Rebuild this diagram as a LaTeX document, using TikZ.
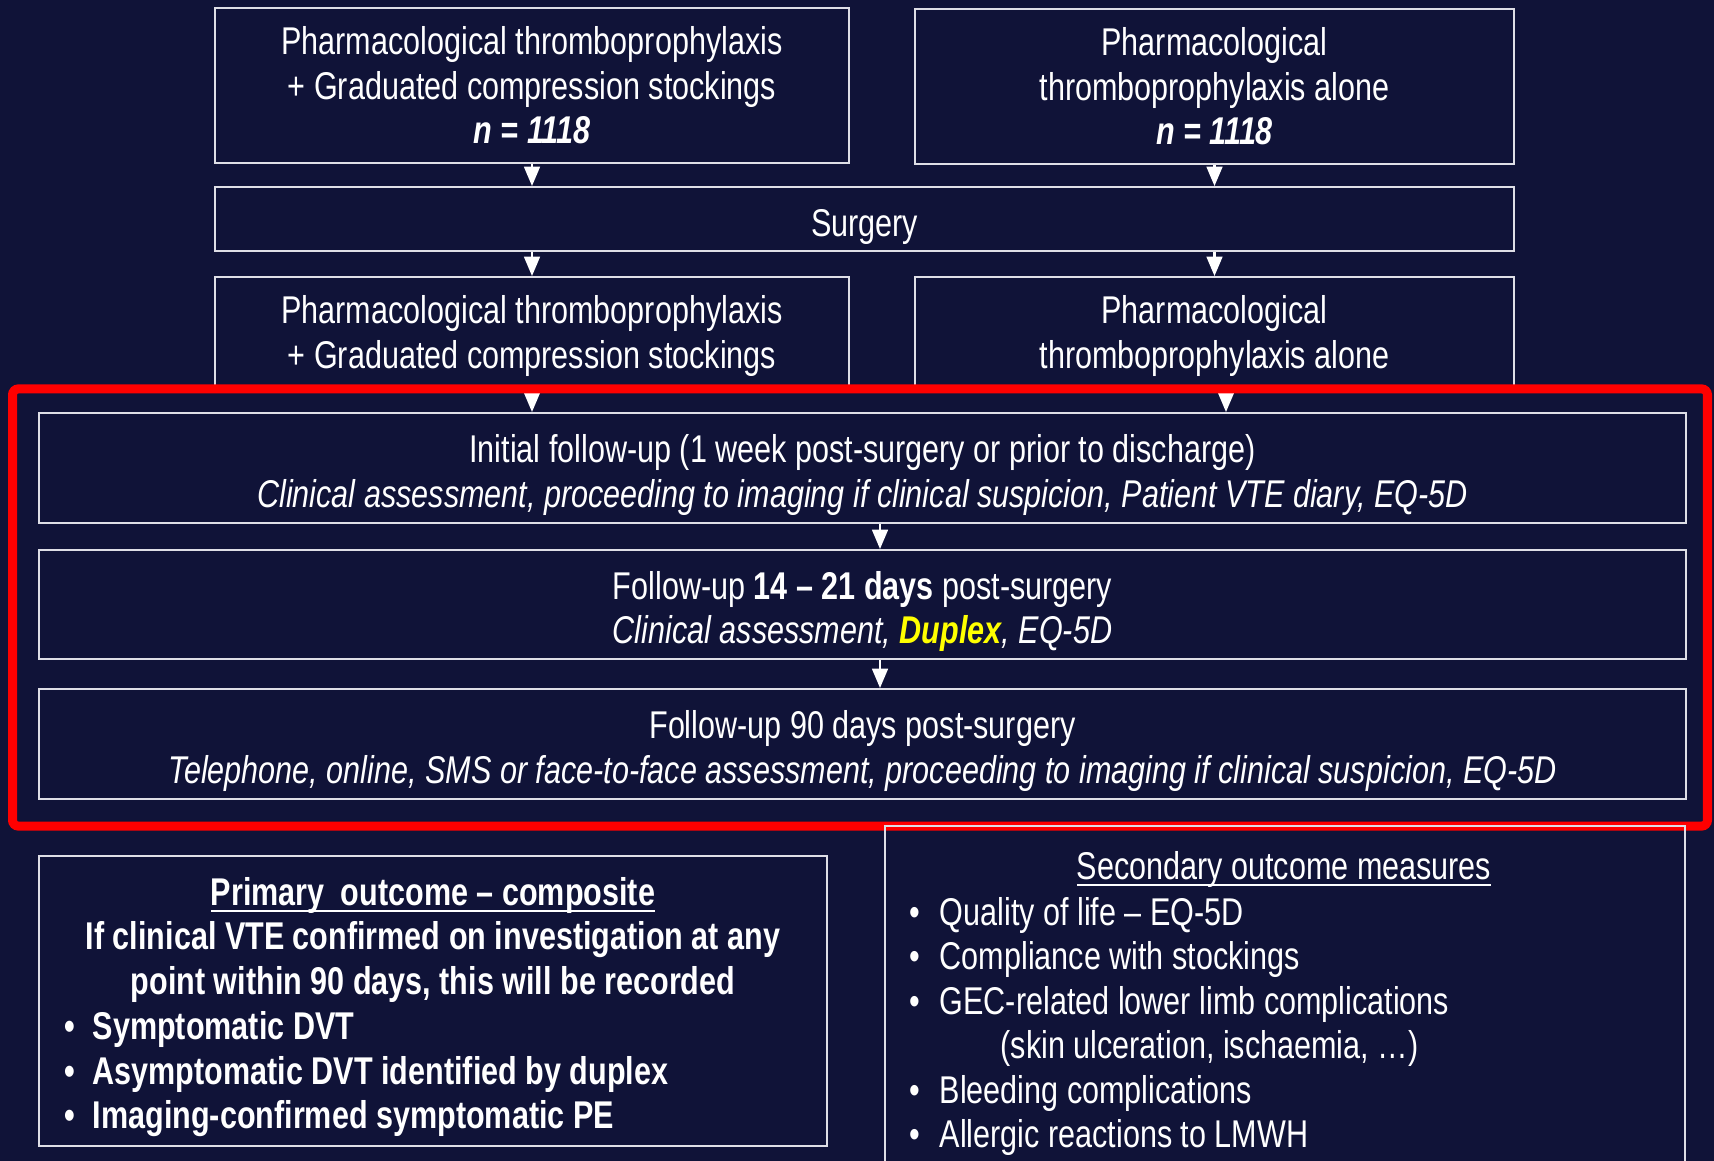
\documentclass[tikz,border=0pt]{standalone}
\usepackage{fontspec}
\setmainfont{Liberation Sans}[FakeStretch=0.79]
\usetikzlibrary{arrows.meta}
\setlength\parindent{0pt}
\definecolor{navy}{RGB}{16,19,56}
\definecolor{boxline}{RGB}{222,222,230}
\definecolor{hilite}{RGB}{255,255,0}
\newsavebox\ulbox
\newcommand{\uln}[1]{\sbox\ulbox{#1}\rlap{\rule[-1.85pt]{\wd\ulbox}{0.55pt}}\usebox\ulbox}
\newcommand{\bul}{\makebox[0.28cm][l]{\textbullet}}
\newcommand{\sbul}{\makebox[0.30cm][l]{\textbullet}}
\newcommand{\txtdrop}[1]{\rule{0pt}{#1}}
\tikzset{
  box/.style={draw=boxline, line width=0.55pt, rectangle, inner sep=0pt, align=center, text=white, font=\fontsize{11}{12.66}\selectfont},
  txt/.style={inner sep=0pt, text=white, font=\fontsize{11}{12.66}\selectfont},
  arr/.style={draw=white, line width=0.6pt, -{Triangle[width=4.5pt,length=5.5pt]}},
}

\begin{document}
\begin{tikzpicture}[x=0.01cm, y=-0.01cm]
    \useasboundingbox (0,0) rectangle (1714,1161);
    \fill [navy] (0,0) rectangle (1714,1161);
    \clip (0,0) rectangle (1714,1161);
    \node [box, minimum width=6.34cm, minimum height=1.55cm] (armA) at (532,85.5) {Pharmacological thromboprophylaxis\\+ Graduated compression stockings\\\textbf{\textit{n = 1118}}};
    \node [box, minimum width=5.99cm, minimum height=1.55cm] (armB) at (1214.5,86.5) {Pharmacological\\thromboprophylaxis alone\\\textbf{\textit{n = 1118}}};
    \node [box, minimum width=12.99cm, minimum height=0.64cm] (surg) at (864.5,219) {\txtdrop{12pt}Surgery};
    \node [box, minimum width=6.34cm, minimum height=1.12cm] (armA2) at (532,333) {\txtdrop{9.6pt}Pharmacological thromboprophylaxis\\+ Graduated compression stockings};
    \node [box, minimum width=5.99cm, minimum height=1.12cm] (armB2) at (1214.5,333) {\txtdrop{9.6pt}Pharmacological\\thromboprophylaxis alone};
    \node [box, minimum width=16.46cm, minimum height=1.10cm] (init) at (862.5,468) {\txtdrop{12pt}Initial follow-up (1 week post-surgery or prior to discharge)\\\textit{Clinical assessment, proceeding to imaging if clinical suspicion, Patient VTE diary, EQ-5D}};
    \node [box, minimum width=16.46cm, minimum height=1.09cm] (fu14) at (862.5,604.5) {\txtdrop{12pt}Follow-up \textbf{14 -- 21 days} post-surgery\\\textit{Clinical assessment, \textcolor{hilite}{\textbf{Duplex}}, EQ-5D}};
    \node [box, minimum width=16.46cm, minimum height=1.10cm] (fu90) at (862.5,744) {\txtdrop{12pt}Follow-up 90 days post-surgery\\\textit{Telephone, online, SMS or face-to-face assessment, proceeding to imaging if clinical suspicion, EQ-5D}};
    \draw [arr] (armA.south) -- (armA.south |- surg.north);
    \draw [arr] (armB.south) -- (armB.south |- surg.north);
    \draw [arr] (armA.south |- surg.south) -- (armA2.north);
    \draw [arr] (armB.south |- surg.south) -- (armB2.north);
    \coordinate (tipB) at ([xshift=0.115cm]armB2.south);
    \coordinate (mid) at ([xshift=0.175cm]init.south);
    \draw [arr] (armA2.south) -- (armA2.south |- init.north);
    \draw [arr] (tipB) -- (tipB |- init.north);
    \draw [arr] (mid) -- (mid |- fu14.north);
    \draw [arr] (mid |- fu14.south) -- (mid |- fu90.north);
    \node [draw=red, line width=0.09cm, rounded corners=0.06cm, inner sep=0pt, minimum width=16.94cm, minimum height=4.37cm] (focus) at (860,607.5) {};
    \node [box, minimum width=7.88cm, minimum height=2.90cm] (prim) at (433,1001) {};
    \node [txt, align=center, font=\fontsize{11}{12.66}\selectfont\bfseries] (primhead) at (433,940) {\uln{Primary\hspace{0.2em} outcome -- composite}\\If clinical VTE confirmed on investigation at any\\point within 90 days, this will be recorded};
    \node [txt, align=left, anchor=west, font=\fontsize{11}{12.66}\selectfont\bfseries] (primlist) at (64,1074.5) {\bul Symptomatic DVT\\\bul Asymptomatic DVT identified by duplex\\\bul Imaging-confirmed symptomatic PE};
    \node [box, minimum width=7.99cm, minimum height=3.80cm] (sec) at (1285,1016) {};
    \node [txt] (sechead) at (1284,869) {\uln{Secondary outcome measures}};
    \node [txt, align=left, anchor=west] (seclist) at (909,1026.5) {\sbul Quality of life -- EQ-5D\\\sbul Compliance with stockings\\\sbul GEC-related lower limb complications\\\hspace*{0.91cm}(skin ulceration, ischaemia, …)\\\sbul Bleeding complications\\\sbul Allergic reactions to LMWH};
\end{tikzpicture}
\end{document}
